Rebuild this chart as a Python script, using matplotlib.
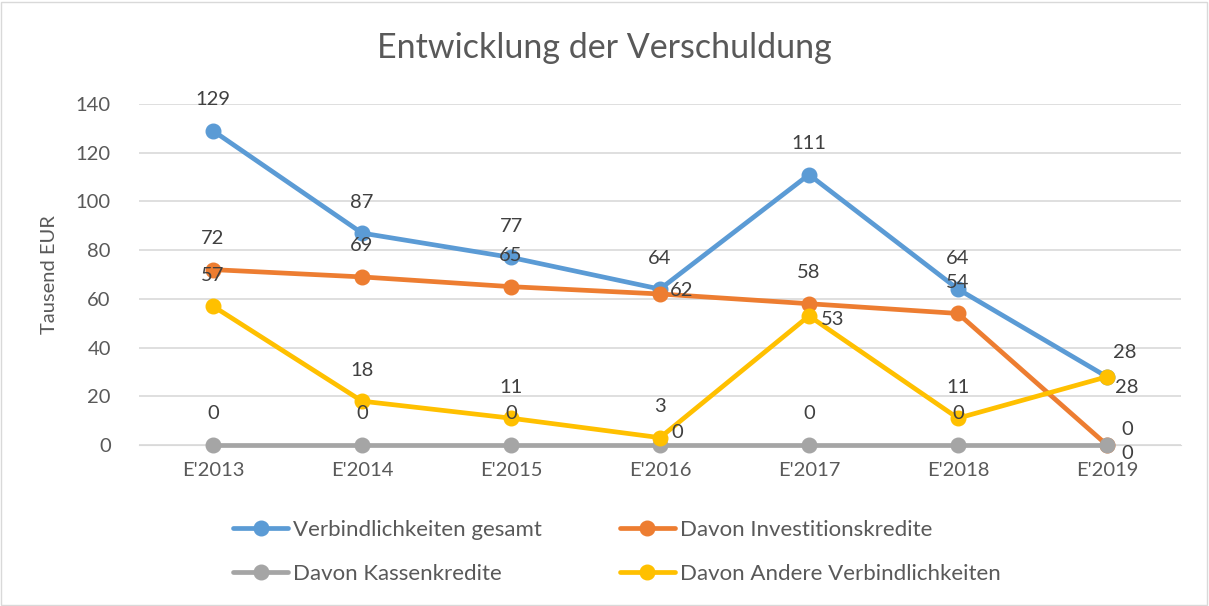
import matplotlib
matplotlib.use("Agg")
import matplotlib.pyplot as plt
from matplotlib.patches import Rectangle

plt.rcParams['font.family'] = ['Lato', 'DejaVu Sans']

categories = ["E'2013", "E'2014", "E'2015", "E'2016", "E'2017", "E'2018", "E'2019"]
gesamt = [129, 87, 77, 64, 111, 64, 28]
investition = [72, 69, 65, 62, 58, 54, 0]
kassen = [0, 0, 0, 0, 0, 0, 0]
andere = [57, 18, 11, 3, 53, 11, 28]

series_names = ["Verbindlichkeiten gesamt", "Davon Investitionskredite",
                "Davon Kassenkredite", "Davon Andere Verbindlichkeiten"]
series_values = [gesamt, investition, kassen, andere]
colors = ["#5B9BD5", "#ED7D31", "#A5A5A5", "#FFC000"]

# label offsets in pixels (dx, dy) for each point of each series
A = (0, 31)
label_offsets = [
    [A, A, A, A, A, A, (18, 24)],
    [A, A, A, (22, 3), A, A, (20, -9)],
    [A, A, A, (17, 12), A, A, (20, 15)],
    [A, A, A, A, (24, -4), A, (20, -11)],
]

fig = plt.figure(figsize=(12.09, 6.06), dpi=100)
ax = fig.add_axes([0.1146, 0.2657, 0.8626, 0.5627])

x = list(range(len(categories)))
handles = []
for name, vals, col in zip(series_names, series_values, colors):
    h, = ax.plot(x, vals, color=col, lw=3.4, marker='o', markersize=10.5,
                 solid_capstyle='round', label=name, clip_on=False, zorder=3)
    handles.append(h)

for vals, offs in zip(series_values, label_offsets):
    for xi, v, (dx, dy) in zip(x, vals, offs):
        ax.annotate(str(v), (xi, v), xytext=(dx, dy), textcoords='offset pixels',
                    ha='center', va='center', fontsize=14.5, color='#404040', zorder=5)

ax.set_xlim(-0.5, len(categories) - 0.5)
ax.set_ylim(0, 140)
ax.set_yticks(range(0, 141, 20))
ax.set_xticks(x)
ax.set_xticklabels(categories)
ax.tick_params(axis='both', length=0, labelsize=14.5, colors='#595959')
ax.tick_params(axis='y', pad=20)
ax.tick_params(axis='x', pad=12)
ax.grid(axis='y', color='#D9D9D9', lw=1.2)
ax.set_axisbelow(True)
for s in ['top', 'right', 'left']:
    ax.spines[s].set_visible(False)
ax.spines['bottom'].set_color('#D9D9D9')

ax.set_ylabel("Tausend EUR", fontsize=14.5, color='#595959')
ax.yaxis.set_label_coords((58 - 138.5) / 1043, 0.5)
fig.text(0.5, 1 - 48 / 606, "Entwicklung der Verschuldung", ha='center', va='center',
         fontsize=24.5, color='#595959')

leg = fig.legend([handles[0], handles[2], handles[1], handles[3]],
                 [series_names[0], series_names[2], series_names[1], series_names[3]],
                 ncol=2, loc='center', bbox_to_anchor=(0.51, 1 - 552 / 606),
                 frameon=False, fontsize=16, handlelength=2.5, handletextpad=0.2,
                 columnspacing=3.5, labelspacing=1.07)
for t in leg.get_texts():
    t.set_color('#595959')

fig.patches.append(Rectangle((0.001, 0.002), 0.997, 0.995, transform=fig.transFigure,
                             fill=False, edgecolor='#D9D9D9', lw=1))

fig.savefig("out.png", dpi=100)
